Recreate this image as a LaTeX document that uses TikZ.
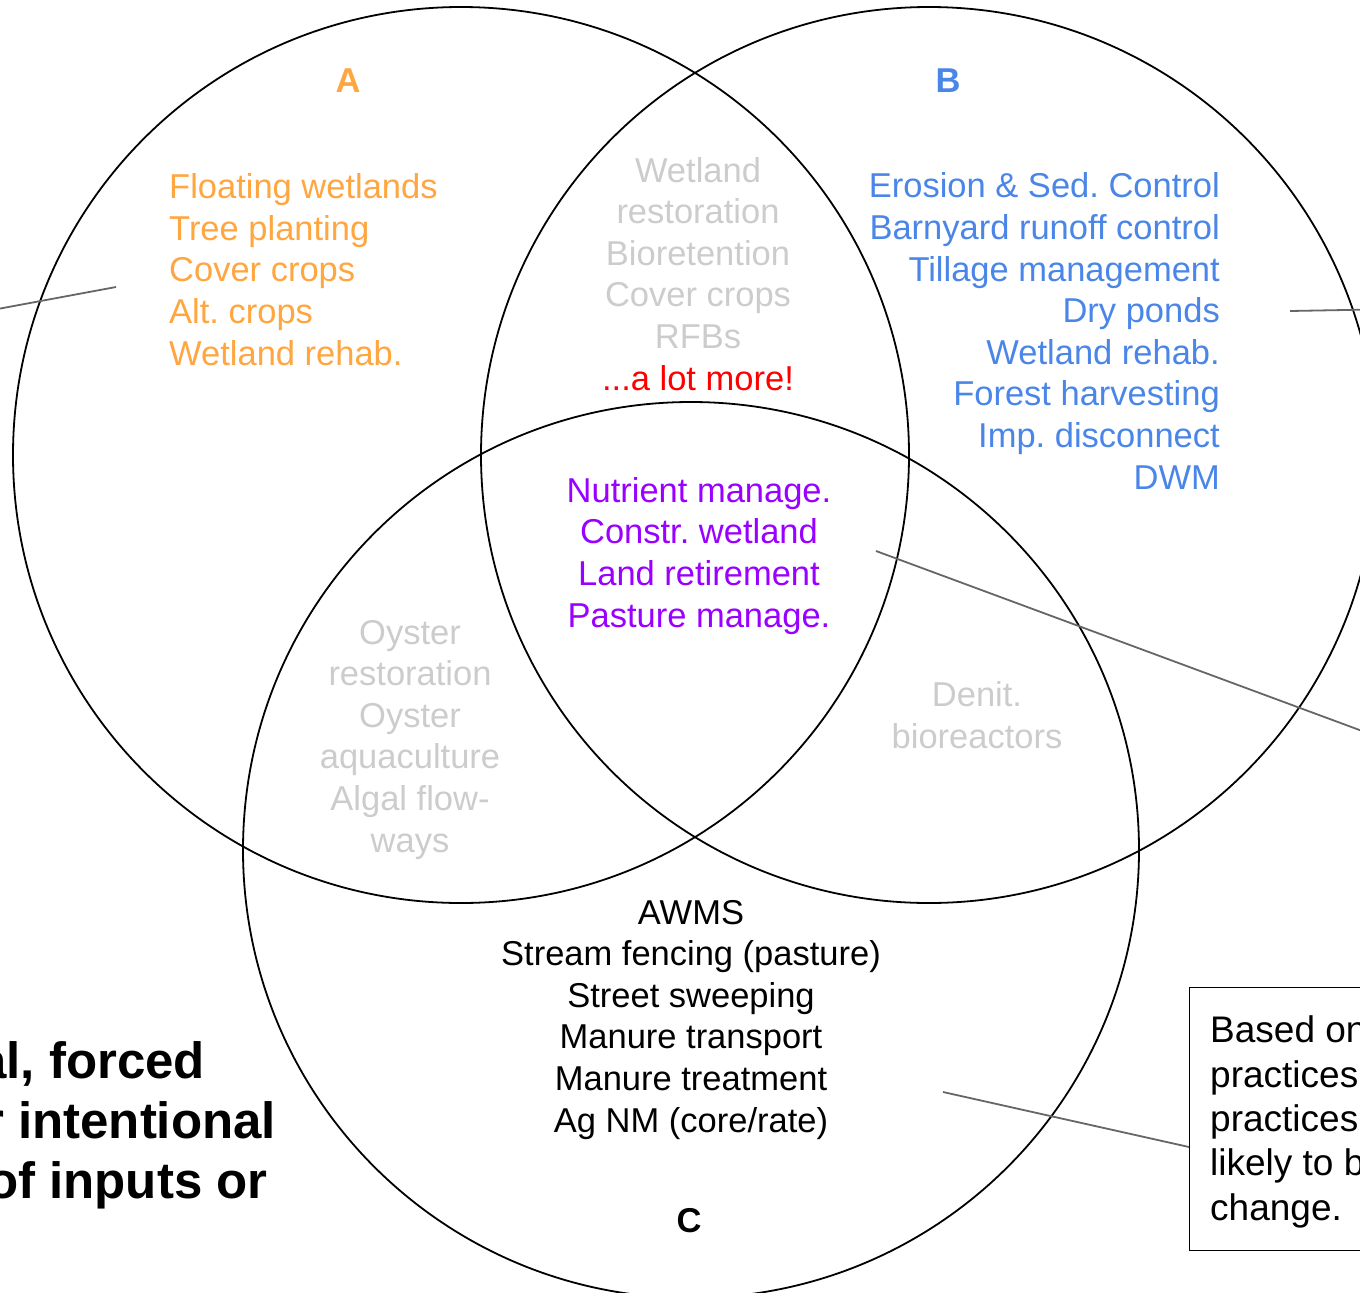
\documentclass[tikz,border=0pt]{standalone}
\usepackage{fontspec}
\setmainfont{Liberation Sans}
\usepackage{xcolor}
\usetikzlibrary{positioning}
\frenchspacing

\definecolor{setA}{HTML}{FFA640}
\definecolor{setB}{HTML}{4A86E8}
\definecolor{setABC}{HTML}{9900FF}
\definecolor{faded}{HTML}{CCCCCC}
\definecolor{pointer}{HTML}{666666}

\begin{document}
\begin{tikzpicture}[
    x=1pt, y=-1pt,
    ring/.style={draw=black, line width=1.8pt},
    item/.style={inner sep=0pt, font=\fontsize{34.5}{41.6}\selectfont},
    setlabel/.style={inner sep=0pt, font=\fontsize{34.5}{41.6}\selectfont\bfseries},
    note/.style={inner sep=0pt, font=\fontsize{37}{44.3}\selectfont, align=left},
    claim/.style={inner sep=0pt, font=\fontsize{51}{60}\selectfont\bfseries, align=left},
    link/.style={draw=pointer, line width=1.8pt}
]
\useasboundingbox (0,0) rectangle (1360,1293);
\clip (0,0) rectangle (1360,1293);

% Circles
\draw[ring] (461,455) circle[radius=448];
\draw[ring] (929,455) circle[radius=448];
\draw[ring] (691,850) circle[radius=448];

% Set labels
\node[setlabel, text=setA, anchor=base] (labA) at (348,92) {A};
\node[setlabel, text=setB, anchor=base] (labB) at (948,92) {B};
\node[setlabel, text=black, anchor=base] (labC) at (689,1232) {C};

% Practices (anchored on the baseline of the last line)
\node[item, text=setA, align=left, anchor=base west] (onlyA) at (169,365)
    {Floating wetlands\\Tree planting\\Cover crops\\Alt. crops\\Wetland rehab.};
\node[item, text=setB, align=right, anchor=base east] (onlyB) at (1220,489)
    {Erosion \& Sed. Control\\Barnyard runoff control\\Tillage management\\Dry ponds\\Wetland rehab.\\Forest harvesting\\Imp. disconnect\\DWM};
\node[item, text=faded, align=center, anchor=base] (AB) at (698,390)
    {Wetland\\restoration\\Bioretention\\Cover crops\\RFBs\\\textcolor{red}{...a lot more!}};
\node[item, text=setABC, align=center, anchor=base] (ABC) at (699,627)
    {Nutrient manage.\\Constr. wetland\\Land retirement\\Pasture manage.};
\node[item, text=faded, align=center, anchor=base] (AC) at (410,852)
    {Oyster\\restoration\\Oyster\\aquaculture\\Algal flow-\\ways};
\node[item, text=faded, align=center, anchor=base] (BC) at (977,748)
    {Denit.\\bioreactors};
\node[item, text=black, align=center, anchor=base] (onlyC) at (691,1132)
    {AWMS\\Stream fencing (pasture)\\Street sweeping\\Manure transport\\Manure treatment\\Ag NM (core/rate)};

% Side texts
\node[claim, anchor=base west] (claim) at (-22,1198)
    {al, forced\\\hspace*{6pt}r intentional\\\hspace*{9pt}of inputs or};
\node[draw=black, line width=1.4pt, anchor=north west, minimum width=300, minimum height=263, inner sep=0pt] (noteBox) at (1189,987) {};
\node[note, anchor=base west] (noteText) at (1210,1220)
    {Based on\\practices\\practices\\likely to be\\change.};

% Pointers
\coordinate (tipA) at (116,287);
\coordinate (endA) at (-40,316);
\coordinate (tipB) at (1290,311);
\coordinate (endB) at (1400,309);
\coordinate (tipABC) at (876,551);
\coordinate (endABC) at (1400,745);
\coordinate (tipC) at (943,1092);
\coordinate (endC) at (1189,1147);
\path[link] (tipA) -- (endA);
\path[link] (tipB) -- (endB);
\path[link] (tipABC) -- (endABC);
\path[link] (tipC) -- (endC);

\end{tikzpicture}
\end{document}
